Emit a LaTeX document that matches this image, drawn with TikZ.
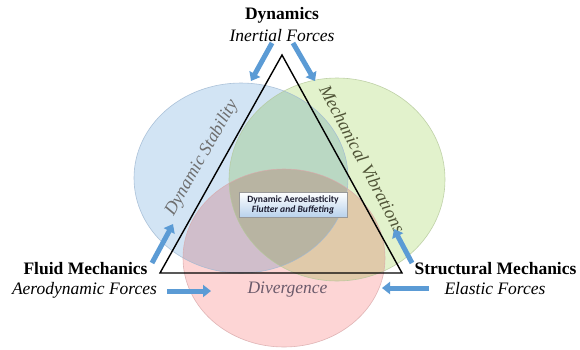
\documentclass[tikz,border=0pt]{standalone}
\usepackage{fontspec}
\setmainfont{Liberation Serif}
\newfontfamily\boxfont{Carlito}
\usetikzlibrary{arrows.meta}
\definecolor{cblue}{HTML}{D2E4F4}
\definecolor{cgreen}{HTML}{E2F2CC}
\definecolor{cpink}{HTML}{FDD5D5}
\definecolor{eblue}{HTML}{9FB8D2}
\definecolor{egreen}{HTML}{B4C89A}
\definecolor{epink}{HTML}{D9A9AA}
\definecolor{arrowblue}{HTML}{5B9BD5}
\definecolor{stabgray}{HTML}{6E6E6E}
\definecolor{vibolive}{HTML}{4F5336}
\definecolor{divpurple}{HTML}{6B5A6B}
\definecolor{boxtext}{HTML}{1C1C30}
\definecolor{boxblue}{HTML}{B9D2EC}
\tikzset{
  headtext/.style={font=\fontsize{17.5}{20}\selectfont\bfseries, inner sep=0pt, anchor=base},
  subtext/.style={font=\fontsize{17.5}{20}\selectfont\itshape, inner sep=0pt, anchor=base},
  edgetext/.style={font=\fontsize{18}{20}\selectfont\itshape, inner sep=0pt, anchor=center},
  blarrow/.style={draw=arrowblue, line width=5pt, -{Triangle[width=12pt,length=8pt]}},
  tri/.style={draw=black, line width=1.4pt, line join=miter},
  centerbox/.style={draw=gray!80, line width=0.6pt, top color=white, bottom color=boxblue,
     minimum width=108pt, minimum height=25pt, inner sep=1pt, align=center,
     font=\boxfont\fontsize{9.6}{11}\selectfont\bfseries, text=boxtext}
}
\begin{document}
\begin{tikzpicture}[x=1pt,y=-1pt]
\useasboundingbox (0,0) rectangle (580,349);
\fill[white] (0,0) rectangle (580,349);
% Venn ellipses
\begin{scope}[blend group=multiply]
  \fill[cblue] (241,178) ellipse [x radius=107, y radius=95];
  \fill[cgreen] (337,179.5) ellipse [x radius=108, y radius=101.5];
  \fill[cpink] (284,258) ellipse [x radius=101, y radius=89];
\end{scope}
\draw[eblue, line width=0.6pt, draw opacity=0.8] (241,178) ellipse [x radius=107, y radius=95];
\draw[egreen, line width=0.6pt, draw opacity=0.8] (337,179.5) ellipse [x radius=108, y radius=101.5];
\draw[epink, line width=0.6pt, draw opacity=0.8] (284,258) ellipse [x radius=101, y radius=89];
% triangle
\coordinate (A) at (282,55);
\coordinate (L) at (160,273);
\coordinate (R) at (402,273);
\draw[tri] (A) -- (L) -- (R) -- cycle;
% edge labels
\node[edgetext, text=stabgray, rotate=60.2] (stab) at (202,158) {Dynamic Stability};
\node[edgetext, text=vibolive, rotate=-62.3] (vib) at (362.5,159) {Mechanical Vibrations};
\node[subtext, text=divpurple] (div) at (287.5,293) {Divergence};
% center box
\node[centerbox] (box) at (293,204.5) {Dynamic Aeroelasticity\\[-1pt]\itshape Flutter and Buffeting};
% corner labels
\node[headtext] (dyn) at (282,19) {Dynamics};
\node[subtext] (inert) at (282,41) {Inertial Forces};
\node[headtext] (fluid) at (85.5,274) {Fluid Mechanics};
\node[subtext] (aero) at (84.5,294) {Aerodynamic Forces};
\node[headtext] (struct) at (495.5,274) {Structural Mechanics};
\node[subtext] (elast) at (495,294) {Elastic Forces};
% arrows
\coordinate (a1s) at (272,43); \coordinate (a1e) at (251,81);
\coordinate (a2s) at (293,43); \coordinate (a2e) at (315,81);
\coordinate (a3s) at (152,263); \coordinate (a3e) at (173,224);
\coordinate (a4s) at (167,291); \coordinate (a4e) at (211,291);
\coordinate (a5s) at (412,263); \coordinate (a5e) at (394,229);
\coordinate (a6s) at (429,288); \coordinate (a6e) at (382,288);
\draw[blarrow] (a1s) -- (a1e);
\draw[blarrow] (a2s) -- (a2e);
\draw[blarrow] (a3s) -- (a3e);
\draw[blarrow] (a4s) -- (a4e);
\draw[blarrow] (a5s) -- (a5e);
\draw[blarrow] (a6s) -- (a6e);
\end{tikzpicture}
\end{document}
